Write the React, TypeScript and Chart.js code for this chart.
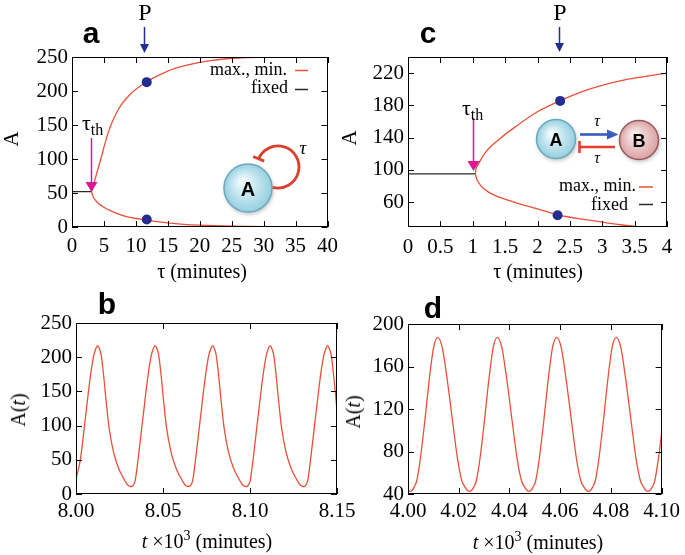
import React, { useEffect, useRef } from "react";
import { Chart, registerables } from "chart.js";
Chart.register(...registerables);

const SERIF = '"Liberation Serif", "Times New Roman", Times, serif';
const SANS = '"Liberation Sans", Arial, Helvetica, sans-serif';
const RED = "#e8503a";
const NAVY = "#232d8f";
const MAGENTA = "#e0168e";
const FIXED = "#2a2a2a";

type Pt = [number, number];

// ---------- panel a : self-inhibition, bifurcation in tau ----------
const aXTicks = [0, 5, 10, 15, 20, 25, 30, 35, 40];
const aYTicks = [0, 50, 100, 150, 200, 250];
const aFixed: Pt[] = [[0, 52], [3.05, 52]];
const aMax: Pt[] = [[3.05, 52], [3.25, 58], [3.6, 70], [4.6, 103], [5.6, 137], [7.2, 172], [9.2, 196], [11.6, 213], [14.9, 229], [18, 238], [21.9, 245], [26, 248.5], [30, 249.5], [35, 250], [40, 250]];
const aMin: Pt[] = [[3.05, 52], [3.3, 45], [3.7, 39], [4.1, 35], [5, 29], [6, 24], [7.3, 19], [8.7, 15], [10, 12.5], [11.6, 10.5], [13, 8.3], [15, 6], [17.5, 4], [20, 2.7], [25, 1.2], [30, 0.5], [35, 0.2], [40, 0]];
const aDots: Pt[] = [[11.7, 213], [11.7, 11]];
const aP = 11.35;
const aTauTh = 2.9;

// ---------- panel c : A-B loop ----------
const cXTicks = [0, 0.5, 1, 1.5, 2, 2.5, 3, 3.5, 4];
const cYTicks = [60, 100, 140, 180, 220];
const cFixed: Pt[] = [[0, 95], [1.04, 95]];
const cMax: Pt[] = [[1.04, 95], [1.05, 101], [1.08, 106], [1.12, 112], [1.2, 122], [1.41, 138], [1.67, 154], [2.0, 172], [2.33, 185], [2.8, 200], [3.31, 211], [3.6, 215], [4.0, 220]];
const cMin: Pt[] = [[1.04, 95], [1.06, 89], [1.1, 83], [1.15, 78], [1.25, 72], [1.41, 66], [1.67, 59], [2.0, 51.5], [2.31, 44], [2.8, 37.5], [3.31, 31.5], [3.7, 28], [4.0, 26]];
const cDots: Pt[] = [[2.35, 185.5], [2.31, 43.5]];
const cP = 2.33;
const cTauTh = 1.01;

// ---------- panel b : time series (t in minutes) ----------
const bXTicks = [8.0, 8.05, 8.1, 8.15];
const bYTicks = [0, 50, 100, 150, 200, 250];
const bSeries: Pt[] = [
  [8000.0, 22], [8002.5, 50], [8004.2, 85], [8005.9, 122], [8007.9, 165], [8010.0, 200], [8011.3, 212], [8012.5, 217],
  [8013.5, 212], [8014.4, 204], [8015.8, 175], [8017.3, 136], [8019.0, 97], [8021.5, 62], [8024.4, 38], [8027.3, 23], [8028.9, 16], [8030.1, 12.5], [8031.0, 11.2], [8031.75, 11],
  [8032.55, 11.8], [8033.35, 15], [8034.05, 20], [8035.55, 48], [8037.25, 85], [8038.95, 122], [8040.95, 165], [8043.05, 200], [8044.35, 212], [8045.55, 217],
  [8046.55, 212], [8047.45, 204], [8048.85, 175], [8050.35, 136], [8052.05, 97], [8054.55, 62], [8057.45, 38], [8060.35, 23], [8061.95, 16], [8063.15, 12.5], [8064.05, 11.2], [8064.8, 11],
  [8065.6, 11.8], [8066.4, 15], [8067.1, 20], [8068.6, 48], [8070.3, 85], [8072.0, 122], [8074.0, 165], [8076.1, 200], [8077.4, 212], [8078.6, 217],
  [8079.6, 212], [8080.5, 204], [8081.9, 175], [8083.4, 136], [8085.1, 97], [8087.6, 62], [8090.5, 38], [8093.4, 23], [8095.0, 16], [8096.2, 12.5], [8097.1, 11.2], [8097.85, 11],
  [8098.65, 11.8], [8099.45, 15], [8100.15, 20], [8101.65, 48], [8103.35, 85], [8105.05, 122], [8107.05, 165], [8109.15, 200], [8110.45, 212], [8111.65, 217],
  [8112.65, 212], [8113.55, 204], [8114.95, 175], [8116.45, 136], [8118.15, 97], [8120.65, 62], [8123.55, 38], [8126.45, 23], [8128.05, 16], [8129.25, 12.5], [8130.15, 11.2], [8130.9, 11],
  [8131.7, 11.8], [8132.5, 15], [8133.2, 20], [8134.7, 48], [8136.4, 85], [8138.1, 122], [8140.1, 165], [8142.2, 200], [8143.5, 212], [8144.7, 217],
  [8145.7, 212], [8146.6, 204], [8148.0, 175], [8149.5, 136], [8150.0, 122],
];

// ---------- panel d : time series (t in minutes) ----------
const dXTicks = [4.0, 4.02, 4.04, 4.06, 4.08, 4.1];
const dYTicks = [40, 80, 120, 160, 200];
const dSeries: Pt[] = [
  [4000.0, 43], [4000.8, 42.5], [4001.6, 43.5], [4002.4, 46.5], [4003.4, 52], [4004.8, 72], [4006.6, 108], [4008.35, 147], [4010.1, 178], [4011.7, 187.5],
  [4013.5, 178], [4015.5, 147], [4017.6, 108], [4019.6, 72], [4021.3, 52], [4022.5, 46.5], [4023.4, 43.5], [4024.2, 42.5],
  [4025.1, 43.5], [4025.9, 46.5], [4026.9, 52], [4028.3, 72], [4030.1, 108], [4031.85, 147], [4033.6, 178], [4035.2, 187.5],
  [4037.0, 178], [4039.0, 147], [4041.1, 108], [4043.1, 72], [4044.8, 52], [4046.0, 46.5], [4046.9, 43.5], [4047.7, 42.5],
  [4048.5, 43.5], [4049.3, 46.5], [4050.3, 52], [4051.7, 72], [4053.5, 108], [4055.25, 147], [4057.0, 178], [4058.6, 187.5],
  [4060.4, 178], [4062.4, 147], [4064.5, 108], [4066.5, 72], [4068.2, 52], [4069.4, 46.5], [4070.3, 43.5], [4071.1, 42.5],
  [4072.0, 43.5], [4072.8, 46.5], [4073.8, 52], [4075.2, 72], [4077.0, 108], [4078.75, 147], [4080.5, 178], [4082.1, 187.5],
  [4083.9, 178], [4085.9, 147], [4088.0, 108], [4090.0, 72], [4091.7, 52], [4092.9, 46.5], [4093.8, 43.5], [4094.6, 42.5],
  [4095.45, 43.5], [4096.25, 46.5], [4097.25, 52], [4098.65, 72], [4100.0, 97],
];

const toXY = (pts: Pt[], xs = 1) => pts.map(([x, y]) => ({ x: x / xs, y }));
const lineDs = (pts: Pt[], color: string, xs = 1) => ({
  data: toXY(pts, xs),
  showLine: true,
  borderColor: color,
  borderWidth: 1.3,
  pointRadius: 0,
  cubicInterpolationMode: "monotone",
  fill: false,
});
const dotDs = (pts: Pt[]) => ({
  data: toXY(pts),
  showLine: false,
  pointRadius: 5,
  backgroundColor: NAVY,
  borderWidth: 0,
});

type Helpers = { px: (v: number) => number; py: (v: number) => number };

interface PanelCfg {
  left: number; top: number; width: number; height: number;
  plot: { l: number; t: number; r: number; b: number };
  xMin: number; xMax: number; xTicks: number[]; xFmt: (v: number) => string;
  yMin: number; yMax: number; yTicks: number[];
  xPad: number;
  datasets: any[];
  draw?: (ctx: CanvasRenderingContext2D, h: Helpers) => void;
}

function downArrow(ctx: CanvasRenderingContext2D, x: number, y0: number, y1: number, color: string, hw: number, hl: number, lw: number) {
  ctx.save();
  ctx.strokeStyle = color;
  ctx.fillStyle = color;
  ctx.lineWidth = lw;
  ctx.beginPath();
  ctx.moveTo(x, y0);
  ctx.lineTo(x, y1 - hl + 1);
  ctx.stroke();
  ctx.beginPath();
  ctx.moveTo(x - hw, y1 - hl);
  ctx.lineTo(x + hw, y1 - hl);
  ctx.lineTo(x, y1);
  ctx.closePath();
  ctx.fill();
  ctx.restore();
}

function ball(ctx: CanvasRenderingContext2D, cx: number, cy: number, r: number, inner: string, outer: string, stroke: string) {
  ctx.save();
  ctx.shadowColor = "rgba(0,0,0,0.28)";
  ctx.shadowBlur = 4;
  ctx.shadowOffsetX = 1;
  ctx.shadowOffsetY = 2;
  const g = ctx.createRadialGradient(cx - r * 0.25, cy - r * 0.3, r * 0.1, cx, cy, r);
  g.addColorStop(0, inner);
  g.addColorStop(1, outer);
  ctx.fillStyle = g;
  ctx.beginPath();
  ctx.arc(cx, cy, r, 0, Math.PI * 2);
  ctx.fill();
  ctx.shadowColor = "transparent";
  ctx.lineWidth = 1.5;
  ctx.strokeStyle = stroke;
  ctx.stroke();
  ctx.restore();
}

function seg(ctx: CanvasRenderingContext2D, x0: number, y0: number, x1: number, y1: number, color: string, lw: number) {
  ctx.save();
  ctx.strokeStyle = color;
  ctx.lineWidth = lw;
  ctx.beginPath();
  ctx.moveTo(x0, y0);
  ctx.lineTo(x1, y1);
  ctx.stroke();
  ctx.restore();
}

function Panel({ cfg }: { cfg: PanelCfg }) {
  const ref = useRef<HTMLCanvasElement>(null);
  useEffect(() => {
    const c = cfg;
    const tickFont = { family: SERIF, size: 21 };
    const chart = new Chart(ref.current as HTMLCanvasElement, {
      type: "scatter",
      data: { datasets: c.datasets },
      options: {
        responsive: false,
        animation: false,
        devicePixelRatio: 1,
        layout: { padding: { left: 0, top: c.plot.t - c.top, right: c.left + c.width - c.plot.r, bottom: 0 } },
        plugins: { legend: { display: false }, tooltip: { enabled: false } },
        scales: {
          x: {
            type: "linear",
            min: c.xMin,
            max: c.xMax,
            grid: { display: false, drawTicks: false },
            border: { display: false },
            ticks: { font: tickFont, color: "#000", padding: c.xPad, maxRotation: 0, autoSkip: false, callback: (v: any) => c.xFmt(Number(v)) },
            afterBuildTicks: (s: any) => { s.ticks = c.xTicks.map((v) => ({ value: v })); },
            afterFit: (s: any) => { s.height = c.top + c.height - c.plot.b; },
          },
          y: {
            type: "linear",
            min: c.yMin,
            max: c.yMax,
            grid: { display: false, drawTicks: false },
            border: { display: false },
            ticks: { font: tickFont, color: "#000", padding: 4, autoSkip: false, callback: (v: any) => String(v) },
            afterBuildTicks: (s: any) => { s.ticks = c.yTicks.map((v) => ({ value: v })); },
            afterFit: (s: any) => { s.width = c.plot.l - c.left; },
          },
        },
      } as any,
      plugins: [
        {
          id: "frame",
          afterDraw(ch: any) {
            const { ctx, chartArea: a, scales } = ch;
            ctx.save();
            ctx.strokeStyle = "#000";
            ctx.lineWidth = 1;
            ctx.strokeRect(Math.round(a.left) + 0.5, Math.round(a.top) + 0.5, Math.round(a.right - a.left) - 1, Math.round(a.bottom - a.top) - 1);
            ctx.beginPath();
            for (const v of c.xTicks) {
              const x = Math.round(scales.x.getPixelForValue(v)) + 0.5;
              ctx.moveTo(x, a.bottom); ctx.lineTo(x, a.bottom - 6);
              ctx.moveTo(x, a.top); ctx.lineTo(x, a.top + 6);
            }
            for (const v of c.yTicks) {
              const y = Math.round(scales.y.getPixelForValue(v)) + 0.5;
              ctx.moveTo(a.left, y); ctx.lineTo(a.left + 6, y);
              ctx.moveTo(a.right, y); ctx.lineTo(a.right - 6, y);
            }
            ctx.stroke();
            ctx.translate(-c.left, -c.top);
            if (c.draw) {
              c.draw(ctx, {
                px: (v: number) => scales.x.getPixelForValue(v) + c.left,
                py: (v: number) => scales.y.getPixelForValue(v) + c.top,
              });
            }
            ctx.restore();
          },
        },
      ],
    });
    return () => chart.destroy();
  }, []);
  return <canvas ref={ref} width={cfg.width} height={cfg.height} style={{ position: "absolute", left: cfg.left, top: cfg.top }} />;
}

const panelA: PanelCfg = {
  left: 0, top: 0, width: 345, height: 265,
  plot: { l: 72, t: 57, r: 331, b: 227 },
  xMin: 0, xMax: 40, xTicks: aXTicks, xFmt: (v) => String(v),
  yMin: 0, yMax: 250, yTicks: aYTicks, xPad: 7,
  datasets: [dotDs(aDots), lineDs(aMax, RED), lineDs(aMin, RED), lineDs(aFixed, FIXED)],
  draw: (ctx, h) => {
    downArrow(ctx, Math.round(h.px(aP)) + 0.5, 27, 53, NAVY, 4.5, 9, 1.5);
    downArrow(ctx, Math.round(h.px(aTauTh)) + 0.5, 138, 192, MAGENTA, 6, 10, 1.5);
    seg(ctx, 295, 70.5, 308, 70.5, RED, 1.5);
    seg(ctx, 295, 89.5, 308, 89.5, FIXED, 1.5);
    ball(ctx, 248, 188, 24, "#eefafd", "#96cfe0", "#6aa9bd");
    const cx = 278, cy = 167, r = 21;
    ctx.save();
    ctx.strokeStyle = "#d9412e";
    ctx.lineWidth = 2.8;
    ctx.beginPath();
    const a0 = (105 * Math.PI) / 180, a1 = (203 * Math.PI) / 180;
    ctx.arc(cx, cy, r, a0, a1, true);
    ctx.stroke();
    const ex = cx + r * Math.cos(a1), ey = cy + r * Math.sin(a1);
    const dx = Math.cos(a1), dy = Math.sin(a1);
    ctx.beginPath();
    ctx.moveTo(ex - 6 * dx, ey - 6 * dy);
    ctx.lineTo(ex + 6 * dx, ey + 6 * dy);
    ctx.stroke();
    ctx.restore();
  },
};

const panelC: PanelCfg = {
  left: 345, top: 0, width: 340, height: 265,
  plot: { l: 408, t: 57, r: 667, b: 227 },
  xMin: 0, xMax: 4, xTicks: cXTicks, xFmt: (v) => String(v),
  yMin: 29, yMax: 240, yTicks: cYTicks, xPad: 8,
  datasets: [dotDs(cDots), lineDs(cMax, RED), lineDs(cMin, RED), lineDs(cFixed, FIXED)],
  draw: (ctx, h) => {
    downArrow(ctx, Math.round(h.px(cP)) + 0.5, 27, 52, NAVY, 4.5, 9, 1.5);
    downArrow(ctx, Math.round(h.px(cTauTh)) + 0.5, 118, 171, MAGENTA, 6, 10, 1.5);
    seg(ctx, 639, 187, 653, 187, RED, 1.5);
    seg(ctx, 639, 204.5, 653, 204.5, FIXED, 1.5);
    ball(ctx, 556, 139, 19.5, "#eefafd", "#96cfe0", "#6aa9bd");
    ball(ctx, 639, 140, 19.5, "#fcecec", "#d9a3a3", "#9a5a5a");
    ctx.save();
    ctx.strokeStyle = "#3a5bbf";
    ctx.fillStyle = "#3a5bbf";
    ctx.lineWidth = 2.6;
    ctx.beginPath();
    ctx.moveTo(580, 134.5);
    ctx.lineTo(609, 134.5);
    ctx.stroke();
    ctx.beginPath();
    ctx.moveTo(607, 129.5);
    ctx.lineTo(618.5, 134.5);
    ctx.lineTo(607, 139.5);
    ctx.closePath();
    ctx.fill();
    ctx.restore();
    seg(ctx, 615, 147, 579, 147, "#e0402e", 2.6);
    seg(ctx, 579.5, 141, 579.5, 153, "#e0402e", 2.6);
  },
};

const panelB: PanelCfg = {
  left: 0, top: 280, width: 365, height: 255,
  plot: { l: 76, t: 323, r: 337, b: 494 },
  xMin: 8.0, xMax: 8.15, xTicks: bXTicks, xFmt: (v) => v.toFixed(2),
  yMin: 0, yMax: 250, yTicks: bYTicks, xPad: 5,
  datasets: [lineDs(bSeries, RED, 1000)],
};

const panelD: PanelCfg = {
  left: 345, top: 280, width: 340, height: 255,
  plot: { l: 408, t: 324, r: 667, b: 494 },
  xMin: 4.0, xMax: 4.1, xTicks: dXTicks, xFmt: (v) => v.toFixed(2),
  yMin: 40, yMax: 200, yTicks: dYTicks, xPad: 5,
  datasets: [lineDs(dSeries, RED, 1000)],
};

type TxtProps = {
  x: number; y: number; size?: number; family?: string; weight?: string | number; italic?: boolean;
  anchor?: "c" | "r" | "l"; rot?: number; color?: string; children: React.ReactNode;
};
function Txt({ x, y, size = 18, family = SERIF, weight = "normal", italic = false, anchor = "c", rot = 0, color = "#000", children }: TxtProps) {
  const tx = anchor === "c" ? "-50%" : anchor === "r" ? "-100%" : "0";
  return (
    <div
      style={{
        position: "absolute", left: x, top: y, whiteSpace: "nowrap", fontFamily: family, fontSize: size,
        fontWeight: weight as any, fontStyle: italic ? "italic" : "normal", lineHeight: 1, color,
        transform: `translate(${tx}, -50%)${rot ? ` rotate(${rot}deg)` : ""}`,
      }}
    >
      {children}
    </div>
  );
}

function TauTh({ x, y }: { x: number; y: number }) {
  return (
    <div style={{ position: "absolute", left: x, top: y, fontFamily: SERIF, fontSize: 22, lineHeight: 1, whiteSpace: "nowrap" }}>
      τ<span style={{ fontSize: 16, position: "relative", top: 5 }}>th</span>
    </div>
  );
}

const xTitleT = (
  <span>
    <i>t</i> ×10<span style={{ fontSize: 14, position: "relative", top: -8 }}>3</span> (minutes)
  </span>
);
const yTitleAt = (
  <span>
    A(<i>t</i>)
  </span>
);

export default function App() {
  return (
    <div style={{ position: "fixed", left: 0, top: 0, width: 685, height: 555, background: "#fff", overflow: "hidden" }}>
      <Panel cfg={panelA} />
      <Panel cfg={panelC} />
      <Panel cfg={panelB} />
      <Panel cfg={panelD} />

      <Txt x={91} y={32.5} size={30} family={SANS} weight="bold">a</Txt>
      <Txt x={428} y={32.5} size={30} family={SANS} weight="bold">c</Txt>
      <Txt x={107} y={304} size={30} family={SANS} weight="bold">b</Txt>
      <Txt x={433} y={308} size={30} family={SANS} weight="bold">d</Txt>

      <Txt x={145} y={12} size={24}>P</Txt>
      <Txt x={560} y={12} size={24}>P</Txt>

      <TauTh x={82} y={112} />
      <TauTh x={462} y={97} />

      <Txt x={11} y={139} size={21} rot={-90}>A</Txt>
      <Txt x={349} y={138} size={21} rot={-90}>A</Txt>
      <Txt x={202} y={271} size={20}>τ (minutes)</Txt>
      <Txt x={538} y={271} size={20}>τ (minutes)</Txt>
      <Txt x={18} y={410} size={20} rot={-90}>{yTitleAt}</Txt>
      <Txt x={353} y={412} size={20} rot={-90}>{yTitleAt}</Txt>
      <Txt x={207} y={541} size={20}>{xTitleT}</Txt>
      <Txt x={538} y={542} size={20}>{xTitleT}</Txt>

      <Txt x={287} y={68.5} size={18} anchor="r">max., min.</Txt>
      <Txt x={288} y={87} size={18} anchor="r">fixed</Txt>
      <Txt x={636} y={185} size={18} anchor="r">max., min.</Txt>
      <Txt x={628} y={204} size={18} anchor="r">fixed</Txt>

      <Txt x={248} y={189} size={20} family={SANS} weight="bold">A</Txt>
      <Txt x={303} y={147} size={19} italic>τ</Txt>
      <Txt x={556} y={140} size={18} family={SANS} weight="bold">A</Txt>
      <Txt x={639} y={141} size={18} family={SANS} weight="bold">B</Txt>
      <Txt x={597} y={121} size={16} italic>τ</Txt>
      <Txt x={597} y={158} size={16} italic>τ</Txt>
    </div>
  );
}
